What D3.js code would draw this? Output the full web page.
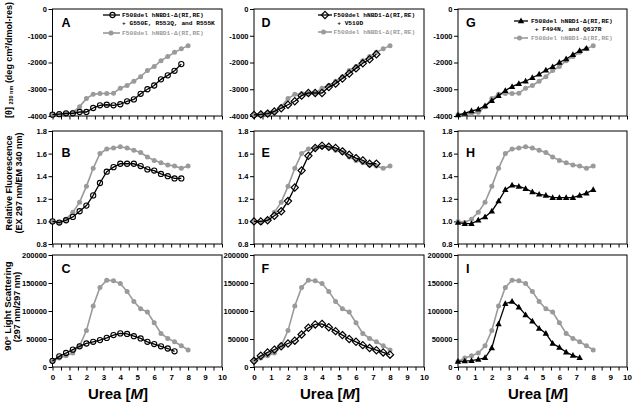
<!DOCTYPE html>
<html><head><meta charset="utf-8">
<script src="https://cdn.jsdelivr.net/npm/d3@7"></script>
<style>body{margin:0;background:#fff} svg{display:block}</style>
</head><body>
<svg id="c" width="633" height="404"></svg>
<script>
// ---------- data ----------
const ureaM = [0, 0.4, 0.8, 1.2, 1.6, 2.0, 2.4, 2.8, 3.2, 3.6, 4.0, 4.4, 4.8, 5.2, 5.6, 6.0, 6.4, 6.8, 7.2, 7.6, 8.0];

// gray reference: F508del hNBD1-Δ(RI,RE)
const refCD = [-3950, -3930, -3900, -3860, -3650, -3350, -3190, -3160, -3160, -3150, -2960, -2860, -2700, -2530, -2300, -2150, -1930, -1780, -1620, -1490, -1370];
const refFL = [1.00, 0.99, 1.02, 1.08, 1.17, 1.31, 1.47, 1.60, 1.64, 1.65, 1.66, 1.65, 1.63, 1.61, 1.57, 1.54, 1.52, 1.50, 1.49, 1.47, 1.49];
const refLS = [10000, 16000, 20000, 25000, 38000, 65000, 109000, 142000, 155000, 154000, 149000, 135000, 117000, 104000, 98000, 79000, 60000, 51000, 45000, 38000, 30500];

// + G550E, R553Q, and R555K
const cdA = [-3950, -3930, -3900, -3900, -3850, -3850, -3700, -3600, -3580, -3600, -3560, -3450, -3380, -3170, -3000, -2860, -2630, -2480, -2310, -2060];
const flB = [1.00, 0.99, 1.01, 1.04, 1.09, 1.14, 1.23, 1.34, 1.44, 1.48, 1.51, 1.51, 1.51, 1.49, 1.46, 1.45, 1.42, 1.40, 1.38, 1.38];
const lsC = [11000, 19000, 25000, 31000, 37000, 42000, 45000, 48000, 52000, 57000, 60000, 59000, 55000, 51000, 45000, 41000, 37000, 33000, 28000];

// + V510D
const cdD = [-3960, -3940, -3910, -3830, -3710, -3580, -3450, -3240, -3140, -3140, -3140, -2920, -2790, -2600, -2410, -2220, -2030, -1880, -1690];
const flE = [1.00, 1.00, 1.01, 1.05, 1.09, 1.18, 1.30, 1.45, 1.58, 1.65, 1.67, 1.66, 1.65, 1.62, 1.59, 1.56, 1.54, 1.51, 1.51];
const lsF = [11000, 20000, 26000, 31000, 37000, 42000, 47000, 58000, 70000, 76000, 77000, 71000, 64000, 57000, 50000, 45000, 39000, 34000, 30000, 26000, 22000];

// + F494N, and Q637R
const cdG = [-3960, -3900, -3810, -3750, -3620, -3430, -3240, -3050, -2900, -2790, -2700, -2570, -2440, -2290, -2160, -2000, -1870, -1710, -1560, -1470];
const flH = [0.99, 0.98, 0.98, 1.01, 1.04, 1.09, 1.18, 1.28, 1.32, 1.31, 1.29, 1.26, 1.24, 1.23, 1.21, 1.21, 1.21, 1.21, 1.23, 1.25, 1.28];
const lsI = [10000, 10600, 11200, 13500, 16500, 34000, 77000, 113000, 117000, 107000, 93000, 82000, 69000, 60000, 42000, 35000, 26500, 20600, 16500];

const cdTicks = [0, -1000, -2000, -3000, -4000];
const flTicks = [0.8, 1.0, 1.2, 1.4, 1.6, 1.8];
const lsTicks = [0, 50000, 100000, 150000, 200000];
const xTickLabels = [0, 1, 2, 3, 4, 5, 6, 7, 8, 9, 10];

const legendRef = "F508del hNBD1-Δ(RI,RE)";
const legendA = ["F508del hNBD1-Δ(RI,RE)", "+ G550E, R553Q, and R555K"];
const legendD = ["F508del hNBD1-Δ(RI,RE)", " + V510D"];
const legendG = ["F508del hNBD1-Δ(RI,RE)", " + F494N, and Q637R"];
const panelLetters = [["A", "B", "C"], ["D", "E", "F"], ["G", "H", "I"]];

// ---------- drawing ----------
const svg = d3.select("#c");
const FONT = "'Liberation Sans', Arial, sans-serif";
const MONO = "'Liberation Mono', 'Courier New', monospace";
const GRAY = "#9a9a9a";
const TICKFONT = 7.5;

const cols = [
  {x0: 52.5, x1: 222, letterX: 61.5, ureaX: 118, marker: "circle", series: [cdA, flB, lsC], legend: legendA, leg: {lx0: 103, lx1: 120, mx: 112.5, tx: 122, y1: 17, y2: 25, y3: 35}},
  {x0: 254, x1: 424, letterX: 261.5, ureaX: 330, marker: "diamond", series: [cdD, flE, lsF], legend: legendD, leg: {lx0: 318, lx1: 332, mx: 325, tx: 333.5, y1: 17, y2: 25, y3: 34}},
  {x0: 458, x1: 627, letterX: 466, ureaX: 538, marker: "triangle", series: [cdG, flH, lsI], legend: legendG, leg: {lx0: 514, lx1: 528, mx: 521, tx: 531, y1: 23, y2: 30.5, y3: 40}}
];
const rows = [
  {top: 9, bot: 116, domain: [-4000, 0], ticks: cdTicks, fmt: d => String(d), letterY: 27, ref: refCD},
  {top: 131, bot: 244, domain: [0.8, 1.8], ticks: flTicks, fmt: d3.format(".1f"), letterY: 157, ref: refFL},
  {top: 255, bot: 367, domain: [0, 200000], ticks: lsTicks, fmt: d => String(d), letterY: 272.5, ref: refLS}
];

function drawMarker(g, type, x, y, color) {
  if (type === "circle") {
    g.append("circle").attr("cx", x).attr("cy", y).attr("r", 2.6)
      .attr("fill", "none").attr("stroke", color).attr("stroke-width", 1.1);
  } else if (type === "diamond") {
    g.append("path").attr("d", `M${x},${y-3.6}L${x+3.6},${y}L${x},${y+3.6}L${x-3.6},${y}Z`)
      .attr("fill", "none").attr("stroke", color).attr("stroke-width", 1.2);
  } else if (type === "triangle") {
    g.append("path").attr("d", `M${x},${y-3.4}L${x+3.2},${y+2.3}L${x-3.2},${y+2.3}Z`)
      .attr("fill", color);
  } else if (type === "dot") {
    g.append("circle").attr("cx", x).attr("cy", y).attr("r", 2.5).attr("fill", color);
  }
}

cols.forEach((col, ci) => {
  const x = d3.scaleLinear().domain([0, 10]).range([col.x0, col.x1]);
  rows.forEach((row, ri) => {
    const y = d3.scaleLinear().domain(row.domain).range([row.bot, row.top]);
    const g = svg.append("g");

    // frame
    g.append("rect").attr("x", col.x0).attr("y", row.top)
      .attr("width", col.x1 - col.x0).attr("height", row.bot - row.top)
      .attr("fill", "none").attr("stroke", "#000").attr("stroke-width", 1);

    // y axis
    const ya = g.append("g").attr("transform", `translate(${col.x0},0)`)
      .call(d3.axisLeft(y).tickValues(row.ticks).tickFormat(row.fmt).tickSize(4).tickPadding(1.5));
    ya.select(".domain").remove();
    ya.selectAll("text").attr("font-family", FONT).attr("font-size", TICKFONT).attr("font-weight", "bold").attr("fill", "#000");

    // x axis
    const isBottom = ri === 2;
    const xa = g.append("g").attr("transform", `translate(0,${row.bot})`)
      .call(d3.axisBottom(x).tickValues(d3.range(0, 10.001, 0.5))
        .tickFormat(d => (isBottom && xTickLabels.includes(d)) ? String(d) : "")
        .tickSize(3.5).tickPadding(4));
    xa.select(".domain").remove();
    xa.selectAll("text").attr("font-family", FONT).attr("font-size", 8).attr("font-weight", "bold").attr("fill", "#000");

    // gray reference
    const refPts = row.ref.map((v, i) => [ureaM[i], v]);
    g.append("path").datum(refPts)
      .attr("d", d3.line().x(d => x(d[0])).y(d => y(d[1])))
      .attr("fill", "none").attr("stroke", GRAY).attr("stroke-width", 1.6);
    refPts.forEach(d => drawMarker(g, "dot", x(d[0]), y(d[1]), GRAY));

    // black series
    const pts = col.series[ri].map((v, i) => [ureaM[i], v]);
    g.append("path").datum(pts)
      .attr("d", d3.line().x(d => x(d[0])).y(d => y(d[1])))
      .attr("fill", "none").attr("stroke", "#000").attr("stroke-width", 1.3);
    pts.forEach(d => drawMarker(g, col.marker, x(d[0]), y(d[1]), "#000"));

    // panel letter
    g.append("text").attr("x", col.letterX).attr("y", row.letterY)
      .attr("font-family", FONT).attr("font-size", 12.5).attr("font-weight", "bold")
      .text(panelLetters[ci][ri]);

    // legend in top row
    if (ri === 0) {
      const L = col.leg;
      const lg = svg.append("g");
      lg.append("line").attr("x1", L.lx0).attr("x2", L.lx1).attr("y1", L.y1 - 2).attr("y2", L.y1 - 2)
        .attr("stroke", "#000").attr("stroke-width", 1.3);
      drawMarker(lg, col.marker, L.mx, L.y1 - 2, "#000");
      lg.append("text").attr("x", L.tx).attr("y", L.y1).attr("font-family", MONO)
        .attr("font-size", 6.2).attr("font-weight", "bold").attr("xml:space", "preserve").text(col.legend[0]);
      lg.append("text").attr("x", L.tx).attr("y", L.y2).attr("font-family", MONO)
        .attr("font-size", 6.2).attr("font-weight", "bold").attr("xml:space", "preserve").text(col.legend[1]);
      lg.append("line").attr("x1", L.lx0).attr("x2", L.lx1).attr("y1", L.y3 - 2).attr("y2", L.y3 - 2)
        .attr("stroke", GRAY).attr("stroke-width", 1.6);
      drawMarker(lg, "dot", L.mx - 1.5, L.y3 - 2, GRAY);
      lg.append("text").attr("x", L.tx).attr("y", L.y3).attr("font-family", MONO)
        .attr("font-size", 6.2).attr("font-weight", "bold").attr("fill", GRAY).text(legendRef);
    }
  });

  // x axis title
  const t = svg.append("text").attr("x", col.ureaX).attr("y", 399).attr("text-anchor", "middle")
    .attr("font-family", FONT).attr("font-size", 15).attr("font-weight", "bold");
  t.append("tspan").text("Urea [");
  t.append("tspan").attr("font-style", "italic").text("M");
  t.append("tspan").text("]");
});

// y axis titles
function yTitle(cx, cy, size, build) {
  const t = svg.append("text").attr("transform", `translate(${cx},${cy}) rotate(-90)`)
    .attr("text-anchor", "middle").attr("font-family", FONT).attr("font-size", size).attr("font-weight", "bold");
  build(t);
}
yTitle(11.5, 60, 9, t => {
  t.append("tspan").text("[θ] ");
  t.append("tspan").attr("font-size", 5.5).attr("dy", 1.5).text("230 nm");
  t.append("tspan").attr("dy", -1.5).text(" (deg cm");
  t.append("tspan").attr("font-size", 5.5).attr("dy", -3).text("2");
  t.append("tspan").attr("dy", 3).text("/dmol-res)");
});
yTitle(11.5, 183, 9, t => t.text("Relative Fluorescence"));
yTitle(21.5, 183, 9, t => t.text("(EX 297 nm/EM 340 nm)"));
yTitle(10.5, 306, 9.5, t => t.text("90° Light Scattering"));
yTitle(20, 307, 9, t => t.text("(297 nm/297 nm)"));
</script>
</body></html>
